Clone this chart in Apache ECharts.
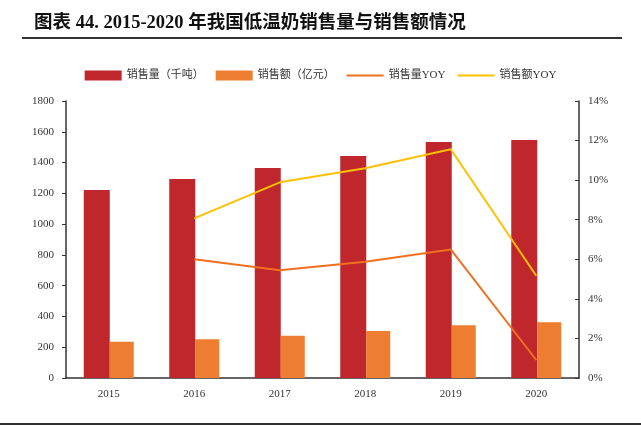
<!DOCTYPE html>
<html><head><meta charset="utf-8">
<script src="https://cdn.jsdelivr.net/npm/echarts@6/dist/echarts.min.js"></script>
<style>html,body{margin:0;padding:0;background:#fff;}#c{width:641px;height:426px;}</style>
</head><body><div id="c"></div>
<script>
const categories = ['2015','2016','2017','2018','2019','2020'];
const salesVolume = [1222, 1293, 1364, 1442, 1533, 1546];
const salesValue = [236, 251, 275, 305, 342, 362];
const volumeYoY = [null, 6.0, 5.44, 5.88, 6.5, 0.91];
const valueYoY = [null, 8.07, 9.89, 10.6, 11.56, 5.17];
const leftTicks = [0, 1800, 200];
const rightTicks = [0, 14, 2];

const FONT = '"Liberation Serif","Noto Sans CJK SC",serif';
const LINE_ICON = 'path://M0,0H37V2H0Z';
const chart = echarts.init(document.getElementById('c'));
chart.setOption({
  animation: false,
  backgroundColor: '#fff',
  title: {
    text: '图表 44. 2015-2020 年我国低温奶销售量与销售额情况',
    left: 29, top: 9,
    textStyle: {fontFamily: FONT, fontSize: 18.5, fontWeight: 'bold', color: '#111'}
  },
  graphic: [
    {type: 'line', shape: {x1: 22, y1: 38, x2: 622, y2: 38}, style: {stroke: '#333', lineWidth: 2}},
    {type: 'line', shape: {x1: 0, y1: 424, x2: 641, y2: 424}, style: {stroke: '#333', lineWidth: 2}}
  ],
  legend: {
    top: 65, left: 'center',
    itemWidth: 37, itemHeight: 10, itemGap: 12,
    textStyle: {fontFamily: FONT, fontSize: 11, color: '#333'},
    data: [
      {name: '销售量（千吨）', icon: 'rect'},
      {name: '销售额（亿元）', icon: 'rect'},
      {name: '销售量YOY', icon: LINE_ICON, itemStyle: {color: '#F07020'}},
      {name: '销售额YOY', icon: LINE_ICON, itemStyle: {color: '#FFC000'}}
    ]
  },
  grid: {left: 66, right: 62, top: 101, bottom: 48},
  xAxis: {
    type: 'category', data: categories,
    axisLine: {lineStyle: {color: '#333', width: 1.5}},
    axisTick: {show: false},
    axisLabel: {fontFamily: FONT, fontSize: 11, color: '#333', margin: 11}
  },
  yAxis: [
    {
      type: 'value', min: leftTicks[0], max: leftTicks[1], interval: leftTicks[2],
      axisLine: {show: true, lineStyle: {color: '#333', width: 1.5}},
      axisTick: {show: true, length: 4, lineStyle: {color: '#333'}},
      splitLine: {show: false},
      axisLabel: {fontFamily: FONT, fontSize: 11, color: '#333', margin: 12, formatter: v => String(v)}
    },
    {
      type: 'value', min: rightTicks[0], max: rightTicks[1], interval: rightTicks[2],
      axisLine: {show: true, lineStyle: {color: '#333', width: 1.5}},
      axisTick: {show: true, inside: true, length: 4, lineStyle: {color: '#333'}},
      splitLine: {show: false},
      axisLabel: {fontFamily: FONT, fontSize: 11, color: '#333', margin: 9, formatter: '{value}%'}
    }
  ],
  series: [
    {name: '销售量（千吨）', type: 'bar', data: salesVolume, barWidth: 26, barGap: '0%',
      itemStyle: {color: '#C0272D'}},
    {name: '销售额（亿元）', type: 'bar', data: salesValue, barWidth: 24, barGap: '0%',
      itemStyle: {color: '#ED7D31'}},
    {name: '销售量YOY', type: 'line', yAxisIndex: 1, data: volumeYoY, symbol: 'none',
      lineStyle: {color: '#F07020', width: 2}, itemStyle: {color: '#F07020'}},
    {name: '销售额YOY', type: 'line', yAxisIndex: 1, data: valueYoY, symbol: 'none',
      lineStyle: {color: '#FFC000', width: 2}, itemStyle: {color: '#FFC000'}}
  ]
});
</script></body></html>
